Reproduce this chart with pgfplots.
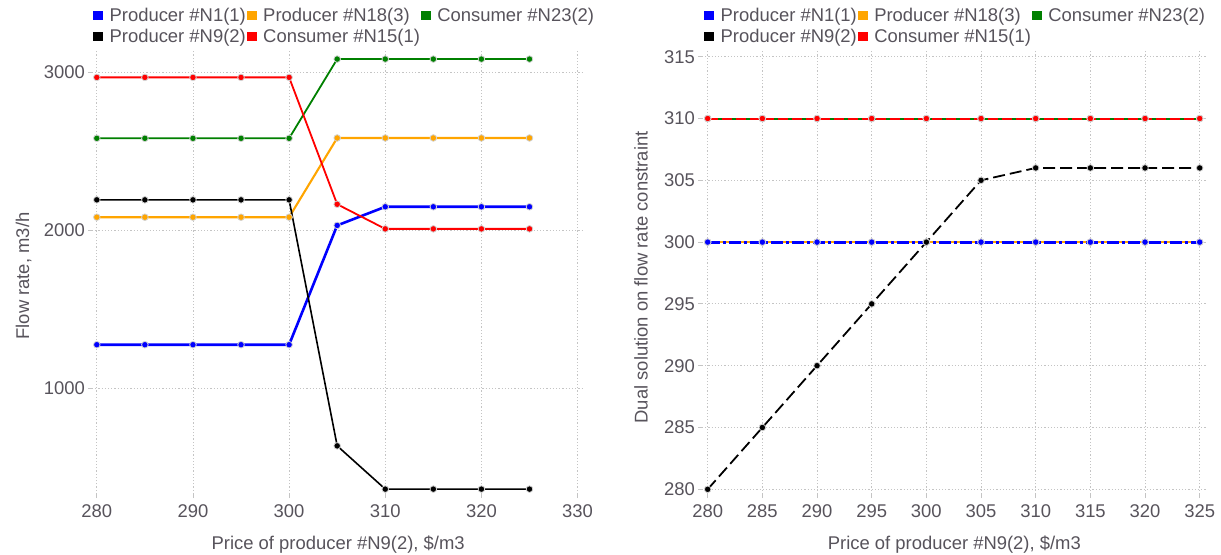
\documentclass[border=0pt]{standalone}
\usepackage{pgfplots}
\usepackage{pgfplotstable}
\pgfplotsset{compat=1.18}
\usepackage{fontspec}
\setmainfont{Liberation Sans}
\definecolor{txt}{HTML}{57535B}
\definecolor{gridc}{HTML}{C4C4C4}
\definecolor{cblue}{HTML}{0000FF}
\definecolor{corange}{HTML}{FFA500}
\definecolor{cgreen}{HTML}{008000}
\definecolor{cred}{HTML}{FF0000}
\definecolor{mk}{HTML}{D2D2D2}

\pgfplotstableread{
x n1 n18 n23 n9 n15
280 1276 2084 2584 2194 2970
285 1276 2084 2584 2194 2970
290 1276 2084 2584 2194 2970
295 1276 2084 2584 2194 2970
300 1276 2084 2584 2194 2970
305 2032 2586 3086 635 2166
310 2150 2586 3086 361 2010
315 2150 2586 3086 361 2010
320 2150 2586 3086 361 2010
325 2150 2586 3086 361 2010
}\flowdata

\pgfplotstableread{
x n1 n18 n23 n9 n15
280 300 300 310 280 310
285 300 300 310 285 310
290 300 300 310 290 310
295 300 300 310 295 310
300 300 300 310 300 310
305 300 300 310 305 310
310 300 300 310 306 310
315 300 300 310 306 310
320 300 300 310 306 310
325 300 300 310 306 310
}\dualdata

\pgfplotsset{
  base/.style={
    scale only axis,
    anchor=south west,
    font=\fontsize{18.5}{21}\selectfont,
    /pgf/number format/assume math mode=true,
    /pgf/number format/1000 sep={},
    axis line style={draw=none},
    grid=major,
    major grid style={gridc, line width=0.9bp, dash pattern=on 1.2bp off 2bp},
    tick style={gridc, line width=0.9bp},
    tick align=outside,
    tick pos=left,
    major tick length=4bp,
    ticklabel style={text=txt, inner sep=3bp},
    xticklabel style={yshift=-3.5bp},
    label style={text=txt},
    xlabel style={at={(axis description cs:0.5,0)}, anchor=center, yshift=-50.5bp},
    legend columns=3,
    legend cell align=left,
    legend style={draw=none, fill=none, text=txt, inner sep=0pt, anchor=north west,
      column sep=0pt, row sep=3bp,
      nodes={inner xsep=1bp, inner ysep=2bp}},
    legend image code/.code={\fill[draw=none,##1] (0bp,-4.5bp) rectangle (9.5bp,4.5bp); \path (0bp,0bp) (15bp,0bp);},
  },
  ser/.style={color=#1, mark=*, mark size=3.3bp, line join=round,
    mark options={solid, fill=#1, draw=mk, line width=0.8bp}},
}

\begin{document}
\begin{tikzpicture}
\useasboundingbox (0,0) rectangle (1221bp,555bp);
% Left chart
\begin{axis}[base,
  at={(92bp,61bp)}, width=492.3bp, height=444.7bp,
  xmin=279.5, xmax=330.7, ymin=330, ymax=3148,
  xtick={280,290,300,310,320,330}, ytick={1000,2000,3000},
  xlabel={Price of producer \#N9(2), \$/m3},
  ylabel={Flow rate, m3/h},
  ylabel style={at={(axis description cs:-0.139,0.49)}, anchor=center},
  legend style={at={(axis description cs:0.002,1.0985)}},
]
\addlegendimage{fill=cblue}\addlegendentry{Producer \#N1(1)}
\addlegendimage{fill=corange}\addlegendentry{Producer \#N18(3)}
\addlegendimage{fill=cgreen}\addlegendentry{Consumer \#N23(2)}
\addlegendimage{fill=black}\addlegendentry{Producer \#N9(2)}
\addlegendimage{fill=cred}\addlegendentry{Consumer \#N15(1)}
\addplot[ser=cblue, line width=2.6bp, forget plot] table[x=x,y=n1]{\flowdata};
\addplot[ser=corange, line width=2.1bp, forget plot] table[x=x,y=n18]{\flowdata};
\addplot[ser=cgreen, line width=1.8bp, forget plot] table[x=x,y=n23]{\flowdata};
\addplot[ser=black, line width=1.6bp, forget plot] table[x=x,y=n9]{\flowdata};
\addplot[ser=cred, line width=1.8bp, forget plot] table[x=x,y=n15]{\flowdata};
\end{axis}
% Right chart
\begin{axis}[base,
  at={(702bp,61bp)}, width=504.7bp, height=444.7bp,
  xmin=279.48, xmax=325.64, ymin=279.62, ymax=315.6,
  xtick={280,285,...,325}, ytick={280,285,...,315},
  xlabel={Price of producer \#N9(2), \$/m3},
  ylabel={Dual solution on flow rate constraint},
  ylabel style={at={(axis description cs:-0.121,0.487)}, anchor=center},
  legend style={at={(axis description cs:0.004,1.0985)}},
]
\addlegendimage{fill=cblue}\addlegendentry{Producer \#N1(1)}
\addlegendimage{fill=corange}\addlegendentry{Producer \#N18(3)}
\addlegendimage{fill=cgreen}\addlegendentry{Consumer \#N23(2)}
\addlegendimage{fill=black}\addlegendentry{Producer \#N9(2)}
\addlegendimage{fill=cred}\addlegendentry{Consumer \#N15(1)}
\addplot[ser=corange, line width=2.6bp, forget plot] table[x=x,y=n18]{\dualdata};
\addplot[ser=cblue, line width=2.8bp, dash pattern=on 12bp off 3bp on 3bp off 3bp, forget plot] table[x=x,y=n1]{\dualdata};
\addplot[ser=cgreen, line width=2bp, forget plot] table[x=x,y=n23]{\dualdata};
\addplot[ser=cred, line width=2bp, dash pattern=on 10bp off 4bp, forget plot] table[x=x,y=n15]{\dualdata};
\addplot[ser=black, line width=1.8bp, dash pattern=on 12bp off 5bp, forget plot] table[x=x,y=n9]{\dualdata};
\end{axis}
\end{tikzpicture}
\end{document}
